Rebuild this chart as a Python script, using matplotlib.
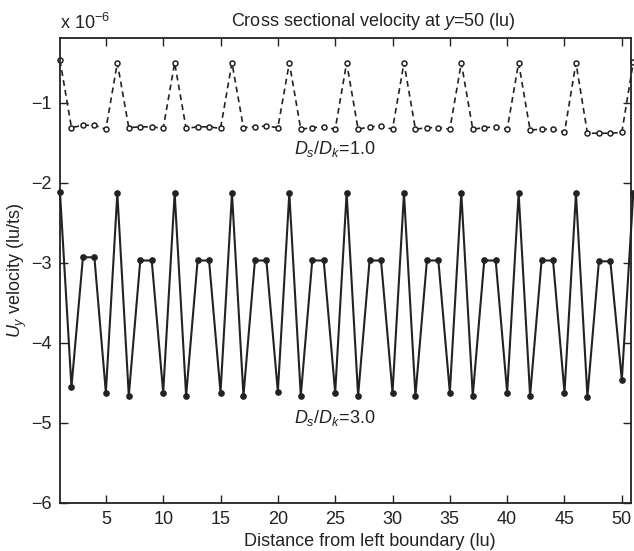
import numpy as np
import matplotlib.pyplot as plt

plt.rcParams['font.family'] = ['Liberation Sans', 'DejaVu Sans']
plt.rcParams['mathtext.fontset'] = 'custom'
plt.rcParams['mathtext.rm'] = 'Liberation Sans'
plt.rcParams['mathtext.it'] = 'Liberation Sans:italic'

# velocities in units of 1e-6 lu/ts
scale_label = 'x 10$^{-6}$'

x = np.arange(1, 52)

# Ds/Dk = 1.0 (dashed, open circles)
u_ratio1 = [
    -0.47, -1.31, -1.28, -1.28, -1.33,
    -0.50, -1.31, -1.30, -1.30, -1.32,
    -0.50, -1.32, -1.30, -1.30, -1.32,
    -0.50, -1.31, -1.30, -1.29, -1.31,
    -0.50, -1.33, -1.31, -1.30, -1.33,
    -0.50, -1.33, -1.30, -1.29, -1.33,
    -0.50, -1.33, -1.31, -1.31, -1.33,
    -0.50, -1.33, -1.31, -1.30, -1.33,
    -0.50, -1.34, -1.33, -1.33, -1.37,
    -0.50, -1.38, -1.38, -1.38, -1.37,
    -0.49,
]

# Ds/Dk = 3.0 (solid, filled dots)
u_ratio3 = [
    -2.12, -4.55, -2.93, -2.93, -4.62,
    -2.13, -4.66, -2.97, -2.97, -4.62,
    -2.13, -4.66, -2.97, -2.97, -4.62,
    -2.13, -4.66, -2.97, -2.97, -4.61,
    -2.13, -4.66, -2.97, -2.97, -4.62,
    -2.13, -4.66, -2.97, -2.97, -4.62,
    -2.13, -4.66, -2.97, -2.97, -4.62,
    -2.13, -4.66, -2.97, -2.97, -4.62,
    -2.13, -4.66, -2.97, -2.97, -4.62,
    -2.13, -4.67, -2.98, -2.98, -4.46,
    -2.13,
]

xticks = [5, 10, 15, 20, 25, 30, 35, 40, 45, 50]
yticks = [-6, -5, -4, -3, -2, -1]

ink = '#222222'

fig = plt.figure(figsize=(6.34, 5.51), dpi=100)
ax = fig.add_axes([60/634, 1 - 503/551, 571/634, 465/551])

ax.plot(x, u_ratio1, linestyle=(0, (3.5, 2.5)), color=ink, linewidth=1.2,
        marker='o', markersize=3.6, markerfacecolor='white',
        markeredgecolor=ink, markeredgewidth=1.1, clip_on=False)
ax.plot(x, u_ratio3, linestyle='-', color=ink, linewidth=1.5,
        marker='o', markersize=3.8, markerfacecolor=ink,
        markeredgecolor=ink, clip_on=False)

ax.set_xlim(1, 50.8)
ax.set_ylim(-6, -0.19)
ax.set_xticks(xticks)
ax.set_yticks(yticks)
ax.set_yticklabels(['\u2212' + str(abs(v)) for v in yticks])

ax.tick_params(direction='in', top=True, right=True, length=6, width=1,
               labelsize=13, colors=ink, pad=6)
for s in ax.spines.values():
    s.set_linewidth(1.3)
    s.set_color(ink)

ax.text(25, -1.58, '$D_s/D_k$=1.0', fontsize=13, color=ink, ha='center', va='center')
ax.text(25, -4.94, '$D_s/D_k$=3.0', fontsize=13, color=ink, ha='center', va='center')

fig.text(373/634, 1 - 22/551, 'Cross sectional velocity at $y$=50 (lu)',
         fontsize=13, color=ink, ha='center', va='center')
fig.text(370/634, 1 - 542/551, 'Distance from left boundary (lu)',
         fontsize=13, color=ink, ha='center', va='center')
fig.text(17/634, 1 - 270/551, '$U_y$ velocity (lu/ts)', fontsize=13,
         color=ink, ha='center', va='center', rotation=90)
fig.text(60/634, 1 - 33/551, scale_label, fontsize=13, color=ink,
         ha='left', va='bottom')

fig.savefig('out.png', dpi=100)
